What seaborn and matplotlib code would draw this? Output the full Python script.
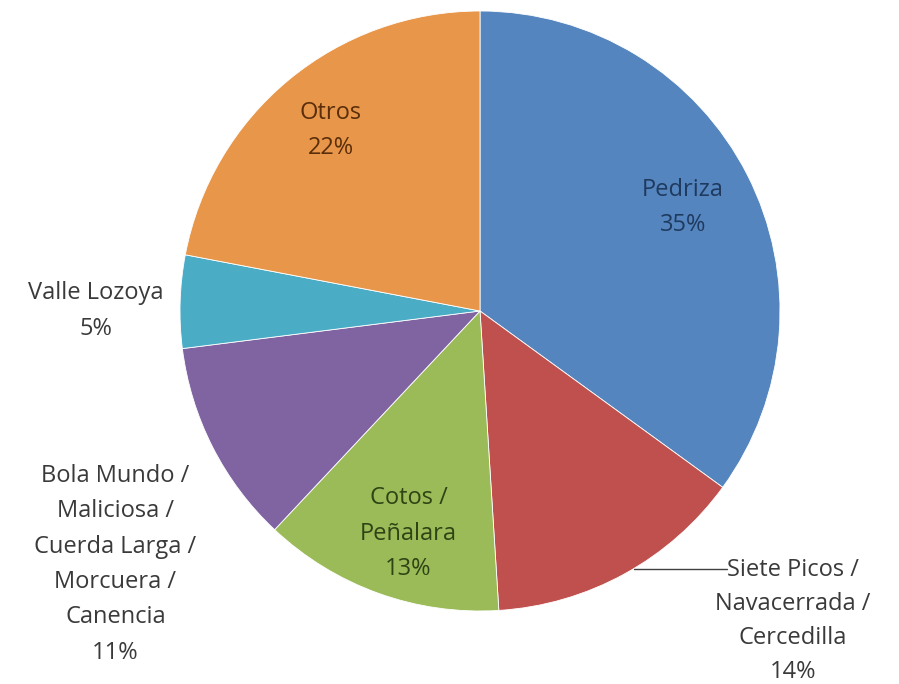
import matplotlib
matplotlib.use("Agg")
import matplotlib.pyplot as plt
import seaborn as sns
import numpy as np

sns.set_theme(style="white")
plt.rcParams["font.family"] = ["Open Sans", "DejaVu Sans"]

categories = [
    "Pedriza",
    "Siete Picos /\nNavacerrada /\nCercedilla",
    "Cotos /\nPeñalara",
    "Bola Mundo /\nMaliciosa /\nCuerda Larga /\nMorcuera /\nCanencia",
    "Valle Lozoya",
    "Otros",
]
shares = [35, 14, 13, 11, 5, 22]

colors = ["#5585BE", "#C0504D", "#9BBB59", "#8064A2", "#4BACC6", "#E8964A"]
text_colors = ["#1F3A5F", "#3A3A3A", "#2F4415", "#3A3A3A", "#3A3A3A", "#5A2E0A"]

# label placement: (radius factor, angular nudge in degrees)
label_pos = [
    (0.76, 0.0),
    (1.44, 3.0),
    (0.78, 2.0),
    (1.48, 7.8),
    (1.28, 1.8),
    (0.78, 0.0),
]

fig = plt.figure(figsize=(8.99, 6.84), dpi=100)
ax = fig.add_axes([0, 0, 1, 1])

wedges, _ = ax.pie(
    shares,
    colors=colors,
    startangle=90,
    counterclock=False,
    radius=1.0,
    wedgeprops=dict(edgecolor="white", linewidth=0.6),
)

for i, (w, label, val, tc, (rf, nudge)) in enumerate(
        zip(wedges, categories, shares, text_colors, label_pos)):
    mid = np.deg2rad((w.theta1 + w.theta2) / 2 + nudge)
    x, y = rf * np.cos(mid), rf * np.sin(mid)
    if i == 1:
        # label hangs below a horizontal leader line drawn from the slice edge
        ang = np.deg2rad((w.theta1 + w.theta2) / 2 + 2.0)
        ex, ey = np.cos(ang), np.sin(ang)
        ax.plot([ex, ex + 0.31], [ey, ey], color="#404040", linewidth=1.0)
        ax.text(ex + 0.31 + 0.22, ey + 0.035, f"{label}\n{val}%", ha="center",
                va="top", fontsize=17, color=tc, linespacing=1.55)
        continue
    ax.text(x, y, f"{label}\n{val}%", ha="center", va="center",
            fontsize=17, color=tc, linespacing=1.63)

ax.set_xlim(-480 / 300, 419 / 300)
ax.set_ylim(-(684 - 311) / 300, 311 / 300)
ax.set_aspect("equal")
ax.axis("off")

fig.savefig("out.png", dpi=100, facecolor="white")
